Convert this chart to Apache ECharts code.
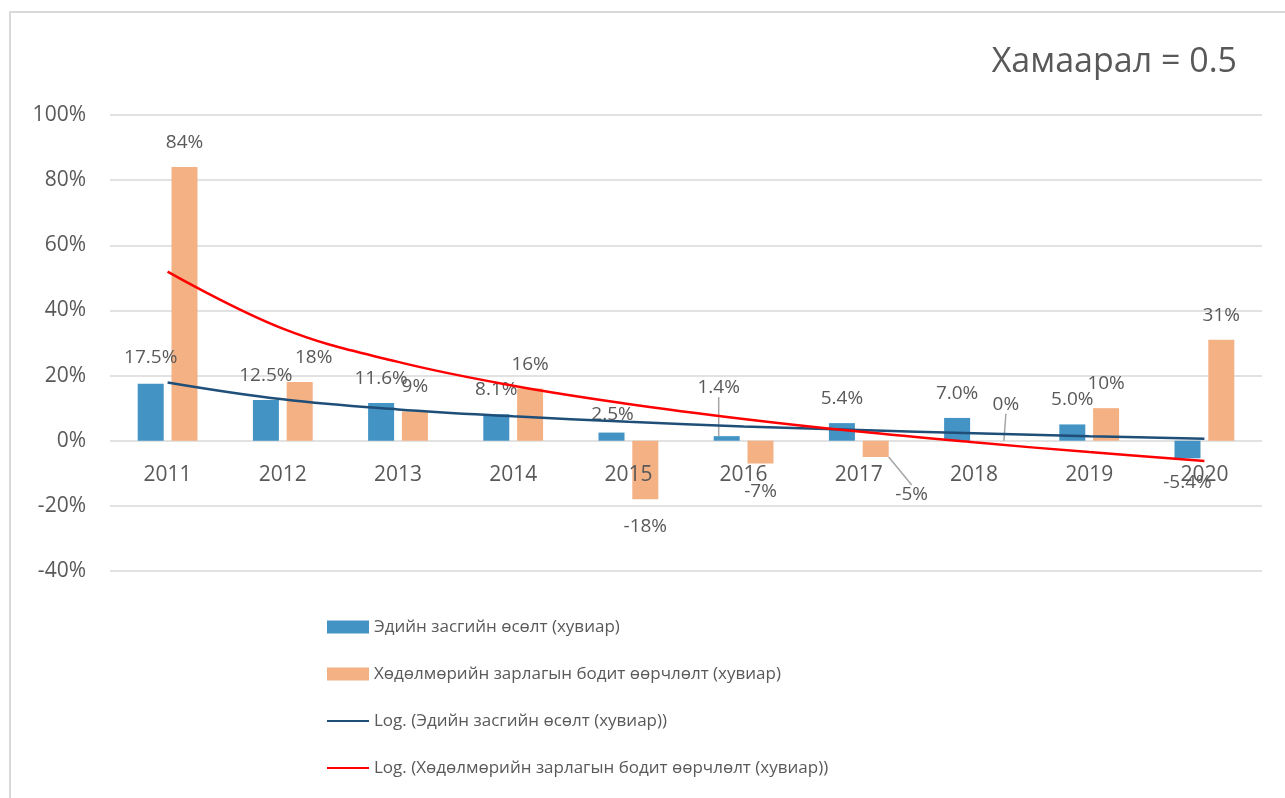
<!DOCTYPE html>
<html>
<head>
<meta charset="utf-8">
<script src="https://cdn.jsdelivr.net/npm/echarts@6/dist/echarts.min.js"></script>
<style>
  html, body { margin: 0; padding: 0; background: #fff; }
  #chart { width: 1285px; height: 798px; }
</style>
</head>
<body>
<div id="chart"></div>
<script>
const years = ['2011', '2012', '2013', '2014', '2015', '2016', '2017', '2018', '2019', '2020'];
const growth = [17.5, 12.5, 11.6, 8.1, 2.5, 1.4, 5.4, 7.0, 5.0, -5.4];
const laborChange = [84, 18, 9, 16, -18, -7, -5, 0, 10, 31];
// log trendlines at each year
const growthTrend = [17.9, 12.7, 9.6, 7.5, 5.8, 4.4, 3.3, 2.3, 1.4, 0.6];
const laborTrend = [51.9, 34.4, 24.2, 16.9, 11.3, 6.7, 2.8, -0.5, -3.5, -6.2];
const yTicks = [-40, -20, 0, 20, 40, 60, 80, 100];

const names = [
  'Эдийн засгийн өсөлт (хувиар)',
  'Хөдөлмөрийн зарлагын бодит өөрчлөлт (хувиар)',
  'Log. (Эдийн засгийн өсөлт (хувиар))',
  'Log. (Хөдөлмөрийн зарлагын бодит өөрчлөлт (хувиар))',
];

// label nudges (series index -> data index -> [dx, dy, leader line])
const nudges = {
  0: { 0: [0, -2], 4: [1, 7], 5: [-8, -24, true] },
  1: { 1: [14, 0], 4: [0, 3], 5: [0, 4], 6: [36, 13, true], 7: [15, -12, true] },
};

const font = 'Open Sans, Noto Sans, sans-serif';
const textColor = '#595959';

function barData(values, si) {
  return values.map((v, i) => {
    const n = (nudges[si] || {})[i];
    return {
      value: v,
      label: { position: v < 0 ? 'bottom' : 'top' },
      labelLine: { show: !!(n && n[2]) },
    };
  });
}

const chart = echarts.init(document.getElementById('chart'));

chart.setOption({
  animation: false,
  textStyle: { fontFamily: font },
  graphic: [
    {
      type: 'rect',
      shape: { x: 10, y: 12, width: 1400, height: 900 },
      style: { fill: 'none', stroke: '#D9D9D9', lineWidth: 2 },
      silent: true,
    },
    {
      type: 'text',
      right: 48,
      top: 45,
      style: { text: 'Хамаарал = 0.5', font: '34px ' + font, fill: textColor },
    },
  ],
  grid: { left: 110, right: 23, top: 115, bottom: 227, containLabel: false },
  legend: {
    orient: 'vertical',
    left: 321,
    top: 612,
    itemWidth: 42,
    itemHeight: 13,
    itemGap: 27,
    textStyle: { color: textColor, fontSize: 17, lineHeight: 20, fontFamily: font },
    data: [
      { name: names[0], icon: 'rect' },
      { name: names[1], icon: 'rect' },
      { name: names[2], itemStyle: { opacity: 0 } },
      { name: names[3], itemStyle: { opacity: 0 } },
    ],
  },
  xAxis: {
    type: 'category',
    data: years,
    z: 6,
    axisLine: { show: false },
    axisTick: { show: false },
    // labels sit just under the zero line, as in the source
    axisLabel: { color: textColor, fontSize: 21, margin: -106, fontFamily: font },
  },
  yAxis: {
    type: 'value',
    min: yTicks[0],
    max: yTicks[yTicks.length - 1],
    interval: 20,
    axisLine: { show: false },
    axisTick: { show: false },
    axisLabel: { color: textColor, fontSize: 21, margin: 24, formatter: '{value}%', fontFamily: font },
    splitLine: { lineStyle: { color: '#D9D9D9', width: 1.5 } },
  },
  series: [
    {
      name: names[0],
      type: 'bar',
      barWidth: 26,
      barGap: '30%',
      itemStyle: { color: '#4393C5' },
      data: barData(growth, 0),
      label: {
        show: true,
        distance: 15,
        color: textColor,
        fontSize: 19,
        fontFamily: font,
        formatter: (p) => p.value.toFixed(1) + '%',
      },
      labelLine: { lineStyle: { color: '#A6A6A6', width: 1.5 } },
    },
    {
      name: names[1],
      type: 'bar',
      barWidth: 26,
      barGap: '30%',
      itemStyle: { color: '#F4B183' },
      data: barData(laborChange, 1),
      label: {
        show: true,
        distance: 15,
        color: textColor,
        fontSize: 19,
        fontFamily: font,
        formatter: (p) => p.value + '%',
      },
      labelLine: { lineStyle: { color: '#A6A6A6', width: 1.5 } },
    },
    {
      name: names[2],
      type: 'line',
      data: growthTrend,
      smooth: 0.4,
      symbol: 'none',
      lineStyle: { color: '#1F4E79', width: 2.5 },
      itemStyle: { color: '#1F4E79' },
      z: 5,
    },
    {
      name: names[3],
      type: 'line',
      data: laborTrend,
      smooth: 0.4,
      symbol: 'none',
      lineStyle: { color: '#FF0000', width: 2.5 },
      itemStyle: { color: '#FF0000' },
      z: 5,
    },
  ],
  labelLayout: (params) => {
    const n = (nudges[params.seriesIndex] || {})[params.dataIndex];
    if (!n) return {};
    return { dx: n[0], dy: n[1] };
  },
});
</script>
</body>
</html>
